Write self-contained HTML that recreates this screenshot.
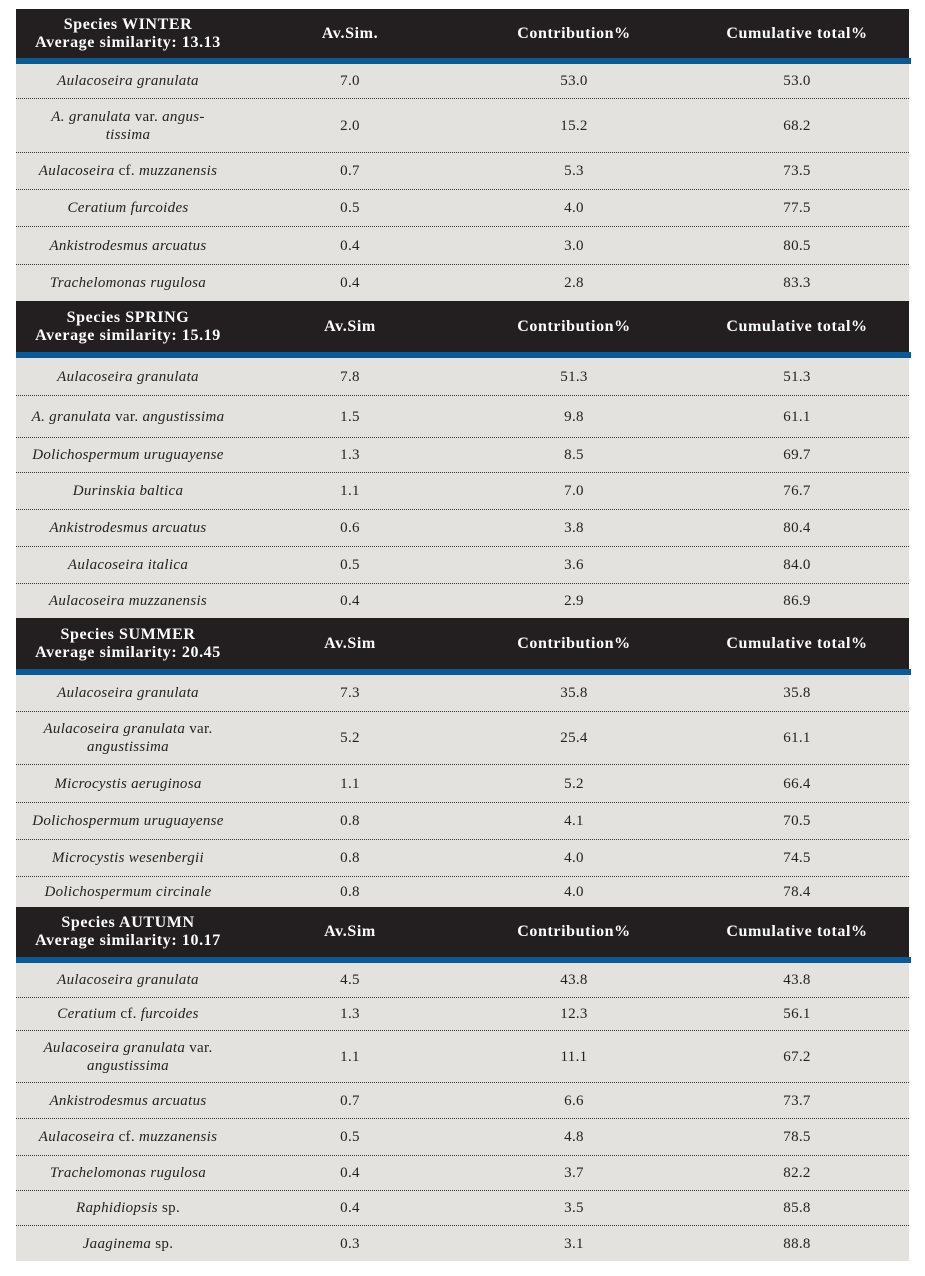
<!DOCTYPE html>
<html><head><meta charset="utf-8">
<style>
body{margin:0;width:925px;height:1276px;background:#fff;position:relative;overflow:hidden;font-family:"Liberation Serif",serif;}
.hd{position:absolute;left:16px;width:893px;background:#231f20;color:#fff;font-weight:bold;font-size:16px;letter-spacing:0.6px;}
.bl{position:absolute;left:16px;width:895px;height:6px;background:#0b5a94;}
.rw{position:absolute;left:16px;width:893px;background:#e3e2de;border-bottom:1px dotted #333;box-sizing:border-box;font-size:15px;color:#222;letter-spacing:0.3px;}
.c{position:absolute;top:0;bottom:0;display:flex;align-items:center;justify-content:center;text-align:center;line-height:18px;}
.c0{left:-8px;width:240px;} .c1{left:254px;width:160px;} .c2{left:478px;width:160px;} .c3{left:701px;width:160px;}
i{font-style:italic;}
</style></head><body>
<script>
const sections=[
 {t:"WINTER",s:"13.13",av:"Av.Sim.",top:9,hb:58,rows:[
  ["<i>Aulacoseira granulata</i>","7.0","53.0","53.0",98],
  ["<i>A. granulata</i> var. <i>angus-</i><br><i>tissima</i>","2.0","15.2","68.2",152],
  ["<i>Aulacoseira</i> cf. <i>muzzanensis</i>","0.7","5.3","73.5",189],
  ["<i>Ceratium furcoides</i>","0.5","4.0","77.5",226],
  ["<i>Ankistrodesmus arcuatus</i>","0.4","3.0","80.5",264],
  ["<i>Trachelomonas rugulosa</i>","0.4","2.8","83.3",301]]},
 {t:"SPRING",s:"15.19",av:"Av.Sim",top:301,hb:352,rows:[
  ["<i>Aulacoseira granulata</i>","7.8","51.3","51.3",395],
  ["<i>A. granulata</i> var. <i>angustissima</i>","1.5","9.8","61.1",437],
  ["<i>Dolichospermum uruguayense</i>","1.3","8.5","69.7",472],
  ["<i>Durinskia baltica</i>","1.1","7.0","76.7",509],
  ["<i>Ankistrodesmus arcuatus</i>","0.6","3.8","80.4",546],
  ["<i>Aulacoseira italica</i>","0.5","3.6","84.0",583],
  ["<i>Aulacoseira muzzanensis</i>","0.4","2.9","86.9",618]]},
 {t:"SUMMER",s:"20.45",av:"Av.Sim",top:618,hb:669,rows:[
  ["<i>Aulacoseira granulata</i>","7.3","35.8","35.8",711],
  ["<i>Aulacoseira granulata</i> var.<br><i>angustissima</i>","5.2","25.4","61.1",764],
  ["<i>Microcystis aeruginosa</i>","1.1","5.2","66.4",802],
  ["<i>Dolichospermum uruguayense</i>","0.8","4.1","70.5",839],
  ["<i>Microcystis wesenbergii</i>","0.8","4.0","74.5",876],
  ["<i>Dolichospermum circinale</i>","0.8","4.0","78.4",907]]},
 {t:"AUTUMN",s:"10.17",av:"Av.Sim",top:907,hb:957,rows:[
  ["<i>Aulacoseira granulata</i>","4.5","43.8","43.8",997],
  ["<i>Ceratium</i> cf. <i>furcoides</i>","1.3","12.3","56.1",1030],
  ["<i>Aulacoseira granulata</i> var.<br><i>angustissima</i>","1.1","11.1","67.2",1082],
  ["<i>Ankistrodesmus arcuatus</i>","0.7","6.6","73.7",1118],
  ["<i>Aulacoseira</i> cf. <i>muzzanensis</i>","0.5","4.8","78.5",1155],
  ["<i>Trachelomonas rugulosa</i>","0.4","3.7","82.2",1190],
  ["<i>Raphidiopsis</i> sp.","0.4","3.5","85.8",1225],
  ["<i>Jaaginema</i> sp.","0.3","3.1","88.8",1261]]}
];
const body=document.body;
function cell(cls,html){
  const c=document.createElement('div');c.className='c c'+cls;
  const s=document.createElement('span');s.innerHTML=html;c.appendChild(s);
  return c;
}
sections.forEach(sec=>{
  const h=document.createElement('div');h.className='hd';
  h.style.top=sec.top+'px';h.style.height=(sec.hb-sec.top)+'px';
  
  
  const hs=[ 'Species '+sec.t+'<br>Average similarity: '+sec.s, sec.av,'Contribution%','Cumulative total%'];
  hs.forEach((t,i)=>{const c=cell(i,t);
    
    
    h.appendChild(c);});
  body.appendChild(h);
  const b=document.createElement('div');b.className='bl';b.style.top=sec.hb+'px';
  
  
  body.appendChild(b);
  let y=sec.hb+6;
  sec.rows.forEach((r,ri)=>{
    const d=document.createElement('div');d.className='rw';
    const last=ri===sec.rows.length-1 && sec.t==='AUTUMN';
    d.style.top=y+'px';d.style.height=(r[4]-y+(last?0:1))+'px';
    if(last)d.style.borderBottom='none';
    
    
    for(let i=0;i<4;i++){const c=cell(i,r[i]);
      
      
      d.appendChild(c);}
    body.appendChild(d);
    y=r[4]+1;
  });
});
</script>
</body></html>
